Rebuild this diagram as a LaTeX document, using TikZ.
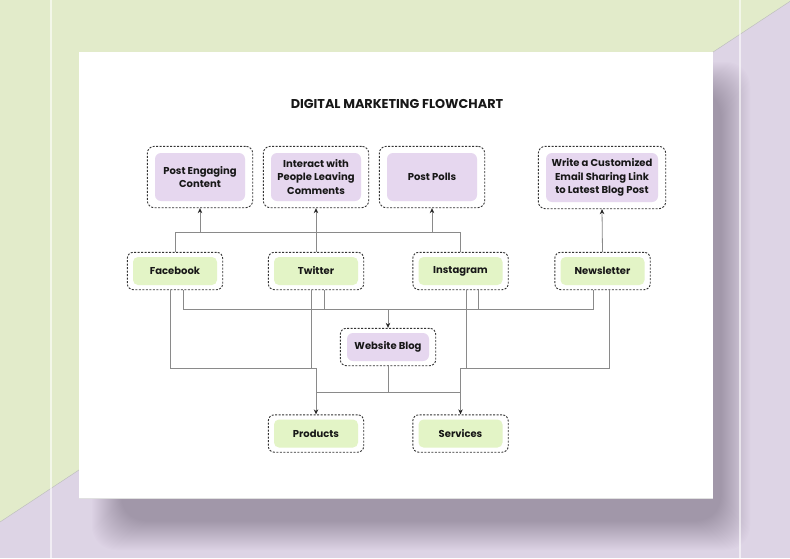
\documentclass[tikz,border=0pt]{standalone}
\usepackage{fontspec}
\setmainfont{Poppins}
\usetikzlibrary{arrows.meta,fit,calc}
\definecolor{bggreen}{HTML}{E2EBCA}
\definecolor{bgpurple}{HTML}{DDD4E5}
\definecolor{shadowcol}{HTML}{5E5268}
\definecolor{boxpurple}{HTML}{E6D7EF}
\definecolor{boxgreen}{HTML}{E3F4C6}
\definecolor{dashcol}{HTML}{333333}
\definecolor{linecol}{HTML}{8A8A8A}
\definecolor{txtcol}{HTML}{171717}
\tikzset{
  lbl/.style={font=\fontsize{10}{13.4}\selectfont\bfseries, text=txtcol, align=center, inner sep=0pt},
  inpurple/.style={lbl, fill=boxpurple, rounded corners=6pt, minimum width=90pt, minimum height=48pt},
  ingreen/.style={lbl, fill=boxgreen, rounded corners=5pt, minimum width=84pt, minimum height=28pt},
  outerp/.style={draw=dashcol, line width=0.9pt, dash pattern=on 2pt off 1.5pt, rounded corners=7pt, inner xsep=7.5pt, inner ysep=6.5pt},
  outerg/.style={draw=dashcol, line width=0.9pt, dash pattern=on 2pt off 1.5pt, rounded corners=6pt, inner xsep=5.5pt, inner ysep=4.5pt},
  conn/.style={draw=linecol, line width=0.8pt},
  arr/.style={conn, -{Stealth[length=5pt, width=4.5pt, inset=1.6pt, color=black!85]}}
}
\begin{document}
\begin{tikzpicture}[x=1pt, y=-1pt]
\useasboundingbox (0,0) rectangle (790,558);
% background
\fill[bgpurple] (0,0) rectangle (790,558);
\fill[bggreen] (0,0) -- (792,0) -- (0,522) -- cycle;
\draw[black!25, line width=0.5pt] (792,0) -- (0,522);
% card shadow (soft)
\foreach \i in {0,1,...,29}{
  \fill[shadowcol, opacity=0.015, rounded corners=24pt] (92+\i,62+\i) rectangle (750-\i,550-\i);
}
\draw[white, opacity=0.6, line width=2.2pt] (51,0) -- (51,558);
\draw[white, opacity=0.6, line width=2.2pt] (740,0) -- (740,558);
% card
\fill[white] (79,52) rectangle (713,498);
\draw[black!12, line width=0.6pt] (79,498) -- (713,498);
% title
\node[lbl, font=\fontsize{12.8}{14}\selectfont\bfseries] (title) at (397,104) {DIGITAL MARKETING FLOWCHART};
% top purple boxes
\node[inpurple] (pecin) at (200,177) {Post Engaging\\Content};
\node[inpurple] (intin) at (316,177) {Interact with\\People Leaving\\Comments};
\node[inpurple] (polin) at (432,177) {Post Polls};
\node[inpurple, minimum width=112pt, minimum height=49pt] (wriin) at (602,177.5) {Write a Customized\\Email Sharing Link\\to Latest Blog Post};
\node[outerp, fit=(pecin)] (pec) {};
\node[outerp, fit=(intin)] (int) {};
\node[outerp, fit=(polin)] (pol) {};
\node[outerp, fit=(wriin)] (wri) {};
% green row
\node[ingreen] (fbin) at (175,271) {Facebook};
\node[ingreen] (twin) at (316,271) {Twitter};
\node[ingreen] (igin) at (460.5,271) {Instagram};
\node[ingreen] (nlin) at (602.5,271) {Newsletter};
\node[outerg, fit=(fbin)] (fb) {};
\node[outerg, fit=(twin)] (tw) {};
\node[outerg, fit=(igin)] (ig) {};
\node[outerg, fit=(nlin)] (nl) {};
% website blog
\node[inpurple, minimum width=82pt, minimum height=28pt] (blogin) at (388,347) {Website Blog};
\node[outerg, inner xsep=6.5pt, fit=(blogin)] (blog) {};
% bottom
\node[ingreen] (prodin) at (316,433.5) {Products};
\node[ingreen] (servin) at (460.5,433.5) {Services};
\node[outerg, fit=(prodin)] (prod) {};
\node[outerg, fit=(servin)] (serv) {};
% coordinates
\coordinate (tbL) at (fb.north |- 0,232);
\coordinate (tbR) at (ig.north |- 0,232);
\coordinate (fbA) at ($(fb.south)+(-4.5,0)$);
\coordinate (fbB) at ($(fb.south)+(8.5,0)$);
\coordinate (twA) at ($(tw.south)+(-5,0)$);
\coordinate (twB) at ($(tw.south)+(8,0)$);
\coordinate (igA) at ($(ig.south)+(5.5,0)$);
\coordinate (igB) at ($(ig.south)+(17.5,0)$);
\coordinate (nlA) at ($(nl.south)+(-9.5,0)$);
\coordinate (nlB) at ($(nl.south)+(6.5,0)$);
\coordinate (prodT) at (prod.north |- 0,368);
\coordinate (servT) at (serv.north |- 0,368);
% top connectors
\draw[conn] (fb.north) -- (tbL) -- (tbR) -- (ig.north);
\draw[arr] (pec.south |- tbL) -- (pec.south);
\draw[arr] (pol.south |- tbL) -- (pol.south);
\draw[arr] (tw.north) -- (int.south);
\draw[arr] (nl.north) -- (wri.south);
% blog bus
\draw[conn] (fbB) -- (fbB |- 0,309) -- (nlA |- 0,309) -- (nlA);
\draw[conn] (twB) -- (twB |- 0,309);
\draw[conn] (igB) -- (igB |- 0,309);
\draw[arr] (blog.north |- 0,309) -- (blog.north);
% lower buses
\draw[conn] (fbA) -- (fbA |- prodT) -- (prodT);
\draw[conn] (twA) -- (twA |- prodT);
\draw[conn] (nlB) -- (nlB |- servT) -- (servT);
\draw[conn] (igA) -- (igA |- servT);
\draw[arr] (prodT) -- (prod.north);
\draw[arr] (servT) -- (serv.north);
% blog to products/services
\draw[conn] (blog.south) -- (blog.south |- 0,392);
\draw[conn] (prod.north |- 0,392) -- (serv.north |- 0,392);
\end{tikzpicture}
\end{document}
